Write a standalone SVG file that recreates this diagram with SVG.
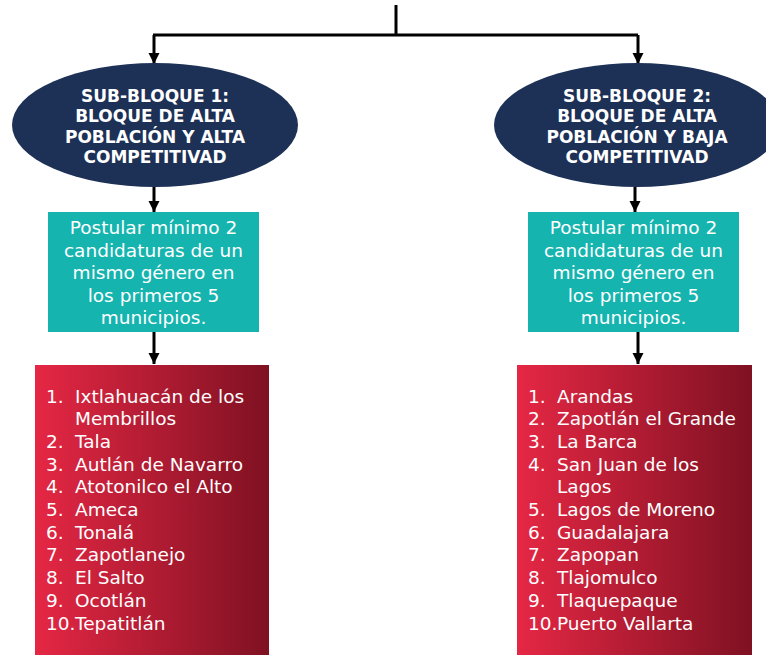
<svg xmlns="http://www.w3.org/2000/svg" width="766" height="655" viewBox="0 0 766 655">
<style>
.conn{stroke:#000;stroke-width:3;fill:none}
.ell{fill:#1d3056}
.teal{fill:#15b4af}
.red{fill:url(#rg)}
.eh{font-family:"DejaVu Sans",sans-serif;font-weight:bold;font-size:17px;fill:#fff;text-anchor:middle}
.tt{font-family:"DejaVu Sans",sans-serif;font-size:18.5px;fill:#fff;text-anchor:middle}
.li{font-family:"DejaVu Sans",sans-serif;font-size:18.5px;fill:#fff}
</style>
<defs>
<linearGradient id="rg" x1="0" y1="0" x2="1" y2="0">
<stop offset="0" stop-color="#e52744"/>
<stop offset="1" stop-color="#7f1122"/>
</linearGradient>
<marker id="ad" markerUnits="userSpaceOnUse" markerWidth="12" markerHeight="12" refX="6" refY="12" orient="0" viewBox="0 0 12 12">
<path d="M0.5,1 L11.5,1 L6,12 Z" fill="#000"/>
</marker>
</defs>
<g id="connectors">
<path class="conn" d="M396,5 V35"/>
<path class="conn" d="M153,35 H638"/>
<path class="conn" d="M154,35 V64" marker-end="url(#ad)"/>
<path class="conn" d="M638,35 V64" marker-end="url(#ad)"/>
<path class="conn" d="M154,187 V212" marker-end="url(#ad)"/>
<path class="conn" d="M635,187 V212" marker-end="url(#ad)"/>
<path class="conn" d="M154,332 V364" marker-end="url(#ad)"/>
<path class="conn" d="M638,332 V364" marker-end="url(#ad)"/>
</g>
<g id="sub1">
<ellipse class="ell" cx="155" cy="125" rx="143" ry="62"/>
<text class="eh" x="155" y="101.5">SUB-BLOQUE 1:</text>
<text class="eh" x="155" y="121.5">BLOQUE DE ALTA</text>
<text class="eh" x="155" y="143">POBLACIÓN Y ALTA</text>
<text class="eh" x="155" y="163">COMPETITIVAD</text>
</g>
<g id="sub2">
<ellipse class="ell" cx="637" cy="125" rx="143" ry="62"/>
<text class="eh" x="637" y="101.5">SUB-BLOQUE 2:</text>
<text class="eh" x="637" y="121.5">BLOQUE DE ALTA</text>
<text class="eh" x="637" y="143">POBLACIÓN Y BAJA</text>
<text class="eh" x="637" y="163">COMPETITIVAD</text>
</g>
<g id="rule1">
<rect class="teal" x="48" y="212" width="211" height="120"/>
<text class="tt" x="153.5" y="234">Postular mínimo 2</text>
<text class="tt" x="153.5" y="256.5">candidaturas de un</text>
<text class="tt" x="153.5" y="279">mismo género en</text>
<text class="tt" x="153.5" y="301.5">los primeros 5</text>
<text class="tt" x="153.5" y="324">municipios.</text>
</g>
<g id="rule2">
<rect class="teal" x="528" y="212" width="211" height="120"/>
<text class="tt" x="633.5" y="234">Postular mínimo 2</text>
<text class="tt" x="633.5" y="256.5">candidaturas de un</text>
<text class="tt" x="633.5" y="279">mismo género en</text>
<text class="tt" x="633.5" y="301.5">los primeros 5</text>
<text class="tt" x="633.5" y="324">municipios.</text>
</g>
<g id="list1">
<rect class="red" x="35" y="365" width="234" height="290"/>
<text class="li" x="46" y="402.5">1.</text><text class="li" x="75" y="402.5">Ixtlahuacán de los</text>
<text class="li" x="75" y="425.2">Membrillos</text>
<text class="li" x="46" y="447.9">2.</text><text class="li" x="75" y="447.9">Tala</text>
<text class="li" x="46" y="470.6">3.</text><text class="li" x="75" y="470.6">Autlán de Navarro</text>
<text class="li" x="46" y="493.3">4.</text><text class="li" x="75" y="493.3">Atotonilco el Alto</text>
<text class="li" x="46" y="516">5.</text><text class="li" x="75" y="516">Ameca</text>
<text class="li" x="46" y="538.7">6.</text><text class="li" x="75" y="538.7">Tonalá</text>
<text class="li" x="46" y="561.4">7.</text><text class="li" x="75" y="561.4">Zapotlanejo</text>
<text class="li" x="46" y="584.1">8.</text><text class="li" x="75" y="584.1">El Salto</text>
<text class="li" x="46" y="606.8">9.</text><text class="li" x="75" y="606.8">Ocotlán</text>
<text class="li" x="46" y="629.5">10.</text><text class="li" x="75" y="629.5">Tepatitlán</text>
</g>
<g id="list2">
<rect class="red" x="517" y="365" width="235" height="290"/>
<text class="li" x="528" y="402.5">1.</text><text class="li" x="557" y="402.5">Arandas</text>
<text class="li" x="528" y="425.2">2.</text><text class="li" x="557" y="425.2">Zapotlán el Grande</text>
<text class="li" x="528" y="447.9">3.</text><text class="li" x="557" y="447.9">La Barca</text>
<text class="li" x="528" y="470.6">4.</text><text class="li" x="557" y="470.6">San Juan de los</text>
<text class="li" x="557" y="493.3">Lagos</text>
<text class="li" x="528" y="516">5.</text><text class="li" x="557" y="516">Lagos de Moreno</text>
<text class="li" x="528" y="538.7">6.</text><text class="li" x="557" y="538.7">Guadalajara</text>
<text class="li" x="528" y="561.4">7.</text><text class="li" x="557" y="561.4">Zapopan</text>
<text class="li" x="528" y="584.1">8.</text><text class="li" x="557" y="584.1">Tlajomulco</text>
<text class="li" x="528" y="606.8">9.</text><text class="li" x="557" y="606.8">Tlaquepaque</text>
<text class="li" x="528" y="629.5">10.</text><text class="li" x="557" y="629.5">Puerto Vallarta</text>
</g>
</svg>
